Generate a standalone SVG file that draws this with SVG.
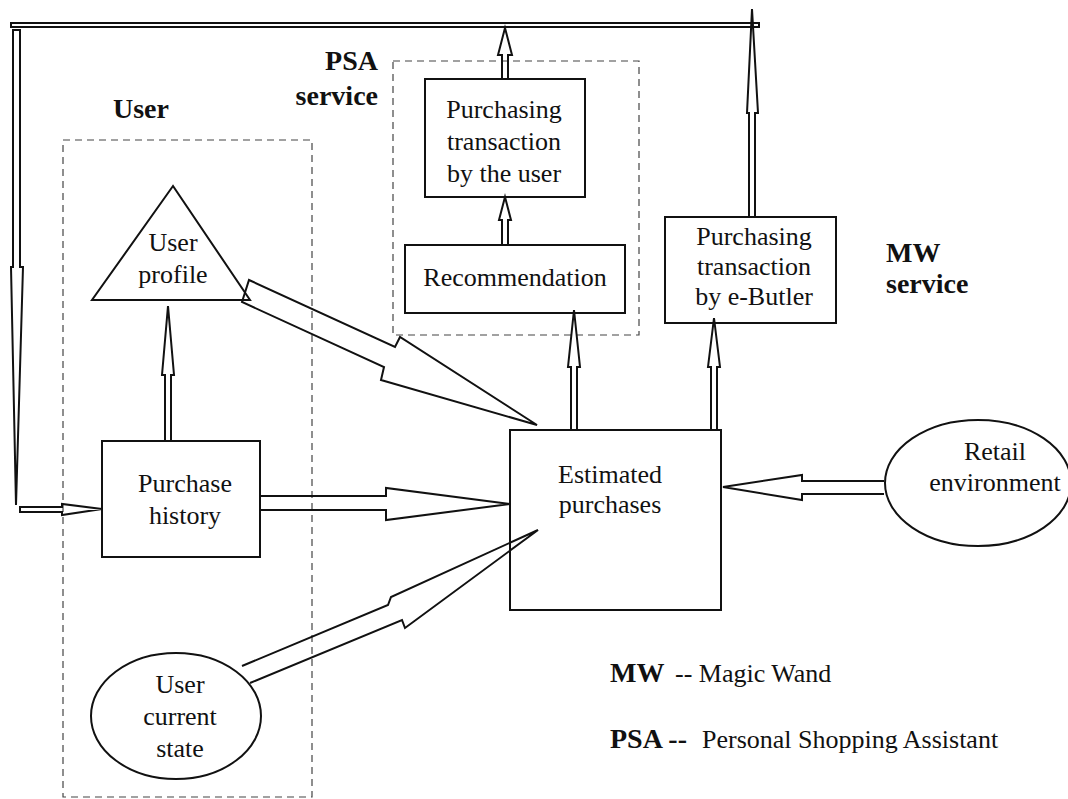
<svg xmlns="http://www.w3.org/2000/svg" width="1068" height="799" viewBox="0 0 1068 799">
<style>
.n{fill:none;stroke:#111;stroke-width:2}
.d{fill:none;stroke:#444;stroke-width:1.2;stroke-dasharray:7 5}
.a{fill:none;stroke:#111;stroke-width:2;stroke-linejoin:miter}
text{font-family:'Liberation Serif','Times New Roman',Times,'DejaVu Serif',serif;fill:#111}
.t{font-size:26px;text-anchor:middle}
.b{font-size:28px;font-weight:bold}
.l{font-size:26px}
</style>
<rect width="1068" height="799" fill="#fff"/>
<g id="groups">
<rect class="d" x="63" y="140" width="249" height="657"/>
<rect class="d" x="393" y="61" width="246" height="274"/>
<text class="b" x="113" y="118">User</text>
<text class="b" x="378" y="70" text-anchor="end">PSA</text>
<text class="b" x="378" y="105" text-anchor="end">service</text>
<text class="b" x="886" y="262">MW</text>
<text class="b" x="886" y="293">service</text>
</g>
<g id="user-profile">
<polygon class="n" points="173,186 92,300 250,300"/>
<text class="t" x="173" y="251">User</text>
<text class="t" x="173" y="283">profile</text>
</g>
<g id="purchase-history">
<rect class="n" x="102" y="441" width="158" height="116"/>
<text class="t" x="185" y="492">Purchase</text>
<text class="t" x="185" y="524">history</text>
</g>
<g id="user-current-state">
<ellipse class="n" cx="176" cy="716" rx="85" ry="63"/>
<text class="t" x="180" y="693">User</text>
<text class="t" x="180" y="725">current</text>
<text class="t" x="180" y="757">state</text>
</g>
<g id="purchasing-user">
<rect class="n" x="425" y="79" width="160" height="118"/>
<text class="t" x="504" y="118">Purchasing</text>
<text class="t" x="504" y="150">transaction</text>
<text class="t" x="504" y="182">by the user</text>
</g>
<g id="recommendation">
<rect class="n" x="405" y="245" width="220" height="68"/>
<text class="t" x="515" y="286">Recommendation</text>
</g>
<g id="purchasing-ebutler">
<rect class="n" x="665" y="217" width="171" height="106"/>
<text class="t" x="754" y="245">Purchasing</text>
<text class="t" x="754" y="275">transaction</text>
<text class="t" x="754" y="305">by e-Butler</text>
</g>
<g id="estimated-purchases">
<rect class="n" x="510" y="430" width="211" height="180"/>
<text class="t" x="610" y="483">Estimated</text>
<text class="t" x="610" y="513">purchases</text>
</g>
<g id="retail-environment">
<ellipse class="n" cx="978" cy="483" rx="93" ry="63"/>
<text class="t" x="995" y="460">Retail</text>
<text class="t" x="995" y="491">environment</text>
</g>
<g id="connectors">
<path class="a" stroke-width="1.6" d="M11,23 H759 V27 H11 Z"/>
<path class="a" stroke-width="1.6" d="M13,30 V267 H11 L16,505 L23,267 H20 V30 Z"/>
<path class="a" stroke-width="1.6" d="M20,507 H62 V504 L102,509 L62,515 V512 H20 Z"/>
<path class="a" d="M749,217 V113 H747 L752,9 L758,113 H755 V217"/>
<path class="a" d="M502,79 V55 H498 L505,28 L512,55 H508 V79"/>
<path class="a" d="M502,245 V220 H499 L505,197 L511,220 H508 V245"/>
<path class="a" d="M571,430 V367 H568 L574,310 L580,367 H577 V430"/>
<path class="a" d="M711,430 V367 H708 L714,318 L720,367 H717 V430"/>
<path class="a" d="M165,441 V375 H162 L168,306 L174,375 H171 V441"/>
<path class="a" d="M249,280 L395,347 L400,337 L537,425 L381,380 L384,367 L242,302 Z"/>
<path class="a" d="M260,496 H386 V488 L510,504 L386,520 V510 H260"/>
<path class="a" d="M884,481 H802 V475 L723,487 L802,500 V494 H884"/>
<path class="a" d="M242,666 L388,605 L391,597 L538,530 L405,628 L402,620 L250,683"/>
</g>
<g id="legend">
<text class="l" x="610" y="682"><tspan class="b" x="610">MW</tspan><tspan x="675">-- Magic Wand</tspan></text>
<text class="l" x="610" y="748"><tspan class="b" x="610">PSA --</tspan><tspan x="702">Personal Shopping Assistant</tspan></text>
</g>
</svg>
